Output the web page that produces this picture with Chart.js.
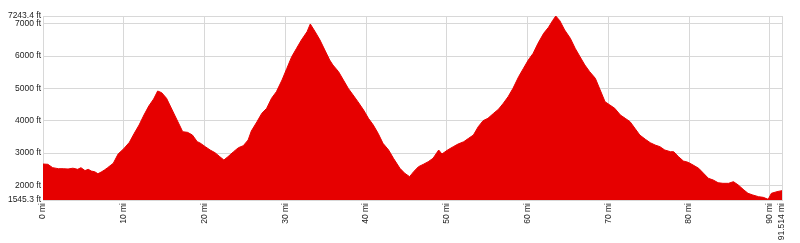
<!DOCTYPE html>
<html>
<head>
<meta charset="utf-8">
<script src="https://cdn.jsdelivr.net/npm/chart.js@4/dist/chart.umd.min.js"></script>
<style>
  html, body { margin: 0; padding: 0; background: #fff; }
  #wrap { width: 800px; height: 243px; }
</style>
</head>
<body>
<div id="wrap"><canvas id="profile"></canvas></div>
<script>
// elevation profile, distance in miles, elevation in feet
var miles = [0, 0.6, 1.2, 1.9, 2.5, 3.1, 3.7, 4.3, 4.7, 5.2, 5.6, 6.0, 6.4, 6.8, 7.2, 7.6, 8.0, 8.7, 9.3, 10.0,
  10.7, 11.3, 11.9, 12.5, 13.1, 13.7, 14.2, 14.7, 15.3, 15.7, 16.3, 16.9, 17.3, 17.9, 18.5, 19.1, 19.4,
  20.1, 20.7, 21.3, 21.9, 22.4, 22.9, 23.6, 24.2, 24.8, 25.4, 25.8, 26.5, 27.1, 27.7, 28.3, 28.9, 29.6,
  30.2, 30.8, 31.4, 32.0, 32.7, 33.1, 33.7, 34.3, 34.9, 35.5, 35.9, 36.6, 37.2, 37.8, 38.4, 39.0, 39.7,
  40.3, 40.9, 41.5, 42.1, 42.8, 43.4, 44.2, 44.8, 45.4, 45.9, 46.5, 47.1, 47.7, 48.3, 49.0, 49.4,
  50.1, 50.8, 51.4, 52.1, 52.7, 53.3, 53.9, 54.5, 55.1, 55.8, 56.4, 57.0, 57.6, 58.2, 58.9, 59.5,
  60.1, 60.7, 61.3, 62.0, 62.6, 63.1, 63.5, 64.0, 64.6, 65.3, 65.9, 66.5, 67.1, 67.7, 68.4, 69.0,
  69.6, 70.2, 70.8, 71.5, 72.1, 72.7, 73.3, 73.9, 74.6, 75.2, 75.8, 76.4, 77.0, 77.7, 78.1, 78.7, 79.3, 79.9,
  80.5, 81.2, 81.8, 82.4, 83.0, 83.6, 84.2, 84.9, 85.5, 86.1, 86.7, 87.3, 87.9, 88.6, 89.2, 89.8,
  90.2, 90.9, 91.514];
var elevation = [2660, 2650, 2546, 2515, 2515, 2505, 2530, 2495, 2546, 2455, 2495, 2440, 2421, 2359, 2410, 2472, 2546, 2681, 2969, 3134,
  3332, 3610, 3868, 4177, 4456, 4673, 4921, 4868, 4694, 4487, 4177, 3868, 3660, 3640, 3558, 3350, 3320,
  3196, 3093, 3010, 2886, 2784, 2886, 3041, 3165, 3227, 3403, 3682, 3970, 4230, 4385, 4694, 4899, 5261,
  5623, 5983, 6243, 6500, 6757, 6996, 6757, 6500, 6190, 5881, 5726, 5519, 5261, 5003, 4797, 4589, 4332,
  4075, 3868, 3610, 3301, 3093, 2836, 2526, 2372, 2268, 2423, 2577, 2650, 2731, 2836, 3093, 2969,
  3093, 3196, 3279, 3350, 3455, 3558, 3816, 4002, 4075, 4230, 4354, 4539, 4745, 5003, 5364, 5623,
  5881, 6088, 6398, 6707, 6893, 7098, 7243.4, 7098, 6810, 6553, 6243, 5983, 5726, 5519, 5313, 4951,
  4589, 4487, 4385, 4177, 4075, 3970, 3765, 3558, 3424, 3320, 3248, 3196, 3093, 3041, 3041, 2886, 2753, 2711,
  2629, 2526, 2372, 2217, 2164, 2080, 2062, 2062, 2113, 2010, 1876, 1752, 1700, 1648, 1627, 1565,
  1752, 1804, 1835];
var yTicks = [1545.3, 2000, 3000, 4000, 5000, 6000, 7000, 7243.4];
var xTicks = [0, 10, 20, 30, 40, 50, 60, 70, 80, 90, 91.514];

var points = miles.map(function(m, i) { return { x: m, y: elevation[i] }; });
var red = 'rgb(230,0,0)';
var labelFont = { family: 'Liberation Sans, Arial, sans-serif', size: 8.5 };

new Chart(document.getElementById('profile'), {
	type: 'line',
	data: {
		datasets: [{
			data: points,
			borderColor: red,
			backgroundColor: red,
			borderWidth: 1,
			pointRadius: 0,
			tension: 0,
			fill: 'start'
		}]
	},
	options: {
		responsive: true,
		maintainAspectRatio: false,
		animation: false,
		layout: { padding: { top: 16, right: 18, left: 0, bottom: 0 } },
		plugins: { legend: { display: false }, tooltip: { enabled: false } },
		scales: {
			x: {
				type: 'linear',
				min: 0,
				max: 91.514,
				afterBuildTicks: function(scale) {
					scale.ticks = xTicks.map(function(v) { return { value: v }; });
				},
				afterFit: function(scale) { scale.height = 43; },
				grid: { color: '#d8d8d8', drawTicks: false },
				border: { color: '#d8d8d8' },
				ticks: {
					autoSkip: false,
					minRotation: 90,
					maxRotation: 90,
					padding: 3,
					color: '#222',
					font: labelFont,
					callback: function(v) { return v + ' mi'; }
				}
			},
			y: {
				min: 1545.3,
				max: 7243.4,
				afterBuildTicks: function(scale) {
					scale.ticks = yTicks.map(function(v) { return { value: v }; });
				},
				afterFit: function(scale) { scale.width = 43; },
				grid: { color: '#d8d8d8', drawTicks: false },
				border: { color: '#d8d8d8' },
				ticks: {
					autoSkip: false,
					padding: 2,
					color: '#222',
					font: labelFont,
					callback: function(v) { return v + ' ft'; }
				}
			}
		}
	}
});
</script>
</body>
</html>
